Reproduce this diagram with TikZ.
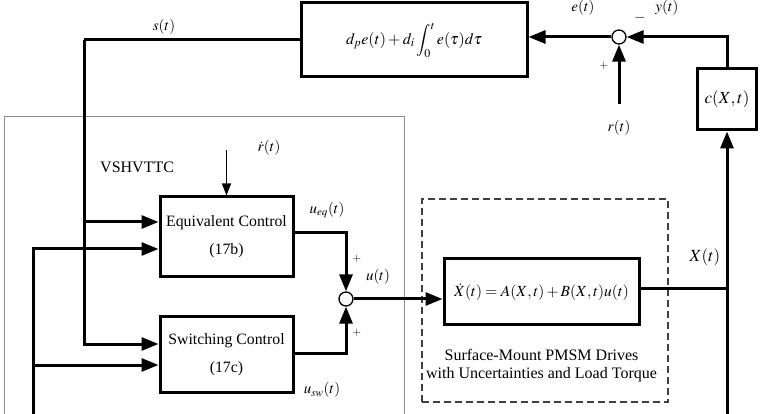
\documentclass[tikz,border=0pt]{standalone}
\usepackage{mathptmx}
\usepackage{fontspec}
\setmainfont{Liberation Serif}
\usetikzlibrary{arrows.meta,calc}
\begin{document}
\begin{tikzpicture}[x=1pt,y=-1pt,
  ln/.style={line width=3pt},
  blk/.style={draw, line width=3pt, inner sep=0pt, align=center},
  arr/.style={line width=3pt, -{Triangle[length=17pt,width=13pt]}},
  tarr/.style={line width=1.3pt, -{Triangle[length=12pt,width=9pt]}},
  sumc/.style={circle, draw, line width=1.3pt, minimum size=14pt, inner sep=0pt, fill=white},
  lbl/.style={font=\fontsize{15}{17}\selectfont, inner sep=0pt},
  sml/.style={font=\fontsize{11}{12}\selectfont, inner sep=0pt},
  txt/.style={font=\fontsize{15.8}{28}\selectfont},
]
\useasboundingbox (0,0) rectangle (761,414);

% gray VSHVTTC frame
\draw[black!45, line width=1pt] (4,416) -- (4,117) -- (404,117) -- (404,416);
\node[font=\fontsize{16}{18}\selectfont, anchor=west, inner sep=0pt] (vs) at (100,167) {VSHVTTC};

% dashed plant frame
\node[draw, black!75, dash pattern=on 7pt off 4pt, line width=1.3pt, minimum width=246pt, minimum height=203pt, inner sep=0pt] (D) at (545,300.5) {};

% blocks
\node[blk, minimum width=226pt, minimum height=74pt, font=\fontsize{16}{20}\selectfont] (PI) at (414,40) {$\displaystyle d_{p}e(t)+d_{i}\int_{0}^{t}e(\tau)d\tau$};
\node[blk, minimum width=59pt, minimum height=61pt, font=\fontsize{17}{19}\selectfont] (cb) at (727,99.5) {$c(X,t)$};
\node[blk, minimum width=133pt, minimum height=80pt, txt] (Eq) at (226.5,237) {Equivalent Control\\(17b)};
\node[blk, minimum width=133pt, minimum height=75pt, txt] (Sw) at (226.5,354.5) {Switching Control\\(17c)};
\node[blk, minimum width=195pt, minimum height=66pt, font=\fontsize{15.5}{17}\selectfont] (Pl) at (541.5,292) {$\dot{X}(t)=A(X,t)+B(X,t)u(t)$};
\node[font=\fontsize{16}{18}\selectfont, align=center, inner sep=0pt] (pt) at (541.5,366) {Surface-Mount PMSM Drives\\with Uncertainties and Load Torque};

% summing junctions
\node[sumc] (c1) at (619,37) {};
\node[sumc] (c2) at (346,299) {};

% free ends and corners
\coordinate (sC) at (84,40);
\coordinate (bL) at (33,416);
\coordinate (bR) at (727,416);
\coordinate (xj) at (727,289);
\coordinate (rin) at (619,104);
\coordinate (rd) at (226.5,150);

% connectors
\draw[ln] (PI.west) -- (sC);
\draw[arr] (sC) |- ([yshift=15pt]Eq.west);
\draw[arr] (sC) |- ([yshift=10.5pt]Sw.west);
\draw[arr] (bL) |- ([yshift=-12pt]Eq.west);
\draw[arr] (bL) |- ([yshift=-10.5pt]Sw.west);
\draw[arr] ([yshift=4pt]Eq.east) -| (c2.north);
\draw[arr] ([yshift=1.5pt]Sw.east) -| (c2.south);
\draw[arr] (c2.east) -- (c2.east -| Pl.west);
\draw[ln] ([yshift=3pt]Pl.east) -- (xj);
\draw[arr] (bR) -- (cb.south);
\draw[arr] (cb.north) |- (c1.east);
\draw[arr] (rin) -- (c1.south);
\draw[arr] (c1.west) -- (c1.west -| PI.east);
\draw[tarr] (rd) -- (Eq.north);

% labels
\node[lbl] (ls) at (164,27) {$s(t)$};
\node[lbl] (lrd) at (269,148) {$\dot{r}(t)$};
\node[lbl] (le) at (583,8) {$e(t)$};
\node[lbl] (ly) at (667,8) {$y(t)$};
\node[lbl] (lm) at (640,18) {$-$};
\node[sml] (lp1) at (604,66) {$+$};
\node[lbl] (lr) at (619,128) {$r(t)$};
\node[lbl] (lueq) at (327,210) {$u_{eq}(t)$};
\node[lbl] (lu) at (378,277) {$u(t)$};
\node[sml] (lp2) at (357,259) {$+$};
\node[sml] (lp3) at (357,333) {$+$};
\node[lbl] (lusw) at (322,390) {$u_{sw}(t)$};
\node[font=\fontsize{17}{19}\selectfont, inner sep=0pt] (lX) at (705,257) {$X(t)$};
\end{tikzpicture}
\end{document}
